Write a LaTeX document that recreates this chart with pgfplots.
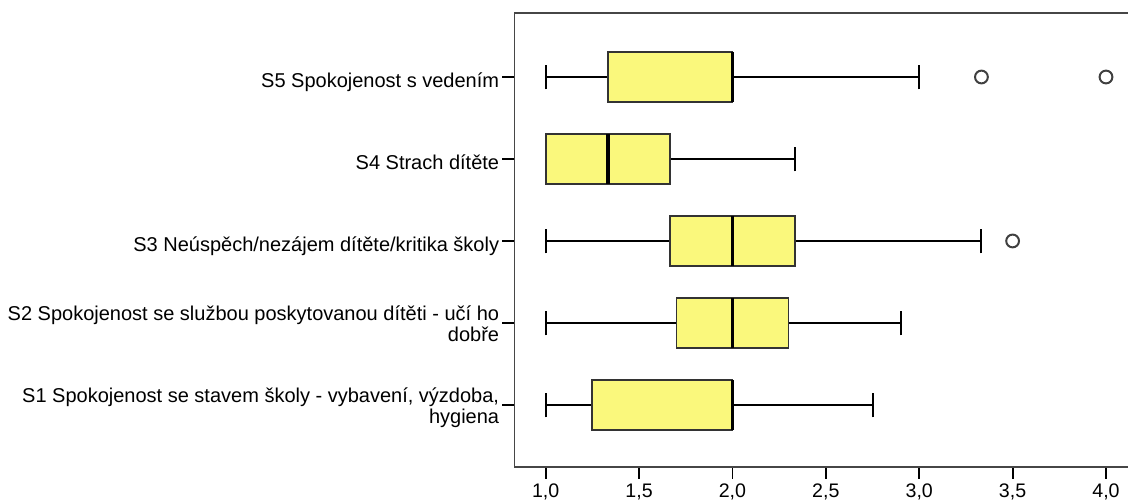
\documentclass[border=0pt]{standalone}
\usepackage{pgfplots}
\pgfplotsset{compat=1.18}
\usepgfplotslibrary{statistics}
\usepackage{fontspec}
\setmainfont{Liberation Sans}

\definecolor{boxyellow}{RGB}{250,248,124}
\definecolor{axisgray}{RGB}{70,70,70}

% single-line labels hang below the tick, two-line labels start on it
\newcommand{\one}[1]{\raisebox{-5.3pt}{#1}}
\newcommand{\two}[2]{\raisebox{1pt}{\begin{tabular}[t]{@{}r@{}}#1\\#2\end{tabular}}}

\begin{document}
\begin{tikzpicture}
\path[use as bounding box] (-257.25pt,-17.65pt) rectangle (306.75pt,233.35pt);
\begin{axis}[
  at={(0pt,0pt)}, anchor=south west,
  scale only axis,
  width=312.75pt, height=226.7pt,
  xmin=0.833, xmax=4.182,
  ymin=0.247, ymax=5.777,
  axis x line=box, axis y line=left,
  axis line style={axisgray, line width=0.9pt, -},
  xtick pos=bottom, ytick pos=left,
  tick align=outside,
  major tick length=6pt,
  tick style={black, line width=0.9pt},
  xtick={1,1.5,...,4},
  ytick={1,2,3,4,5},
  yticklabels={
    {\two{S1 Spokojenost se stavem školy - vybavení, výzdoba,}{hygiena}},
    {\two{S2 Spokojenost se službou poskytovanou dítěti - učí ho}{dobře}},
    {\one{S3 Neúspěch/nezájem dítěte/kritika školy}},
    {\one{S4 Strach dítěte}},
    {\one{S5 Spokojenost s vedením}}
  },
  /pgf/number format/assume math mode=true,
  xticklabel style={anchor=north, inner sep=0pt, yshift=-2.5pt,
    font=\fontsize{9.8}{10.5}\selectfont,
    /pgf/number format/.cd, use comma, fixed, fixed zerofill, precision=1},
  yticklabel style={anchor=base east, inner sep=0pt, xshift=-1.5pt,
    font=\fontsize{10}{10.5}\selectfont},
  boxplot/box extend=0.61,
  boxplot/whisker extend=0.3,
  boxplot/every box/.style={draw=black!80, fill=boxyellow, line width=0.9pt},
  boxplot/every whisker/.style={black, line width=1pt},
  boxplot/every median/.style={black, line width=1.8pt},
  mark size=3.2pt,
]
% S1
\addplot[boxplot prepared={draw position=1, lower whisker=1, lower quartile=1.25,
  median=2, upper quartile=2, upper whisker=2.75}] coordinates {};
% S2
\addplot[boxplot prepared={draw position=2, lower whisker=1, lower quartile=1.7,
  median=2, upper quartile=2.3, upper whisker=2.9}] coordinates {};
% S3
\addplot[boxplot prepared={draw position=3, lower whisker=1, lower quartile=1.667,
  median=2, upper quartile=2.333, upper whisker=3.333},
  mark=o, mark options={draw=black!75, fill=white, line width=1pt}]
  table[row sep=\\, y index=0] {3.5\\};
% S4
\addplot[boxplot prepared={draw position=4, lower whisker=1, lower quartile=1,
  median=1.333, upper quartile=1.667, upper whisker=2.333}] coordinates {};
% S5
\addplot[boxplot prepared={draw position=5, lower whisker=1, lower quartile=1.333,
  median=2, upper quartile=2, upper whisker=3},
  mark=o, mark options={draw=black!75, fill=white, line width=1pt}]
  table[row sep=\\, y index=0] {3.333\\4\\};
\end{axis}
\end{tikzpicture}
\end{document}
